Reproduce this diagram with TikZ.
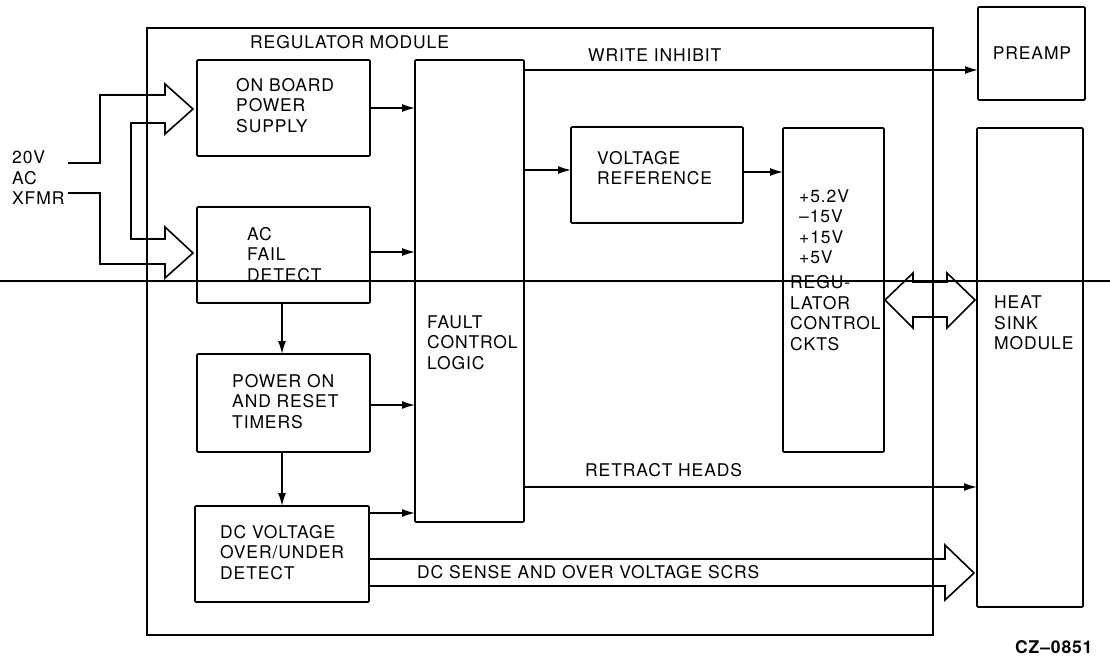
\documentclass[tikz,border=0pt]{standalone}
\usepackage{fontspec}
\setmainfont{TeX Gyre Heros}[LetterSpace=5]
\usetikzlibrary{arrows.meta}
\tikzset{
  box/.style={draw, line width=1.7pt, inner sep=0pt, outer sep=0pt, rounded corners=1pt},
  modbox/.style={draw, line width=2pt, inner sep=0pt, outer sep=0pt},
  txt/.style={inner sep=0pt, align=left, anchor=west, font=\fontsize{17.5}{20.5}\selectfont},
  arr/.style={line width=1.4pt, -{Latex[length=13pt,width=8pt]}},
  hollow/.style={line width=1.6pt, line join=miter},
}
\begin{document}
\begin{tikzpicture}[x=1pt,y=-1pt]
\useasboundingbox (0,0) rectangle (1110,657);
% scan artefact line
\draw[line width=1.1pt] (0,281) -- (1110,281);
% module
\node[modbox, minimum width=786pt, minimum height=607pt, anchor=north west] (mod) at (147,28) {};
\node[txt] (modl) at (250,42) {REGULATOR MODULE};
% boxes
\node[box, minimum width=173pt, minimum height=96pt, anchor=north west] (ob) at (197,60) {};
\node[box, minimum width=173pt, minimum height=96pt, anchor=north west] (acf) at (197,207) {};
\node[box, minimum width=173pt, minimum height=98pt, anchor=north west] (por) at (197,354) {};
\node[box, minimum width=174pt, minimum height=96pt, anchor=north west] (dcv) at (195,506) {};
\node[box, minimum width=109pt, minimum height=462pt, anchor=north west] (fcl) at (415,60) {};
\node[box, minimum width=172pt, minimum height=96pt, anchor=north west] (vref) at (571,127) {};
\node[box, minimum width=101pt, minimum height=324pt, anchor=north west] (reg) at (783,128) {};
\node[box, minimum width=107pt, minimum height=93pt, anchor=north west] (pre) at (978,7) {};
\node[box, minimum width=106pt, minimum height=479pt, anchor=north west] (heat) at (977,128) {};
% texts
\node[txt] (obt) at (236,105.5) {ON BOARD\\POWER\\SUPPLY};
\node[txt] (acft) at (247,254.5) {AC\\FAIL\\DETECT};
\node[txt] (port) at (232,401.5) {POWER ON\\AND RESET\\TIMERS};
\node[txt] (dcvt) at (220,552.5) {DC VOLTAGE\\OVER/UNDER\\DETECT};
\node[txt] (fclt) at (427,342.5) {FAULT\\CONTROL\\LOGIC};
\node[txt] (vreft) at (597,168) {VOLTAGE\\REFERENCE};
\node[txt] (regt1) at (799,226.5) {+5.2V\\--15V\\+15V\\+5V};
\node[txt] (regt2) at (790,313) {REGU-\\LATOR\\CONTROL\\CKTS};
\node[txt, anchor=center] (pret) at (1032,53) {PREAMP};
\node[txt] (heatt) at (994,323) {HEAT\\SINK\\MODULE};
\node[txt] (inp) at (12,178) {20V\\AC\\XFMR};
\node[txt] (wil) at (588,55) {WRITE INHIBIT};
\node[txt] (rhl) at (585,470) {RETRACT HEADS};
\node[txt] (dcsl) at (417,572) {DC SENSE AND OVER VOLTAGE SCRS};
\node[txt, font=\fontsize{17.5}{20.5}\selectfont\bfseries] (cz) at (1015,647) {CZ--0851};
% arrows into fault logic
\draw[arr] (ob.east) -- (ob.east -| fcl.west);
\coordinate (a1) at ([yshift=3pt]acf.east);
\draw[arr] (a1) -- (a1 -| fcl.west);
\coordinate (p1) at ([yshift=-2pt]por.east);
\draw[arr] (p1) -- (p1 -| fcl.west);
\coordinate (d1) at ([yshift=-7pt]dcv.north east);
\draw[arr] (d1) -- (d1 -| fcl.west);
% vertical arrows
\coordinate (v0) at ([xshift=-1.5pt]acf.south);
\draw[arr] (v0) -- (v0 |- por.north);
\coordinate (v2) at ([xshift=-1.5pt]por.south);
\draw[arr] (v2) -- (v2 |- dcv.north);
% fault to voltage reference and regulator
\coordinate (r1) at ([yshift=5pt]vref.west);
\draw[arr] (r1 -| fcl.east) -- (r1);
\coordinate (r2) at ([yshift=3pt]vref.east);
\draw[arr] (r2) -- (r2 -| reg.west);
% write inhibit and retract heads
\coordinate (w1) at ([yshift=-10pt]fcl.north east);
\draw[arr] (w1) -- (w1 -| pre.west);
\coordinate (h1) at ([yshift=35pt]fcl.south east);
\draw[arr] (h1) -- (h1 -| heat.west);
% hollow input arrows
\draw[hollow] (68,163) -- (100,163) -- (100,95) -- (165,95) -- (165,84) -- (193,109) -- (165,134) -- (165,123) -- (131,123) -- (131,239) -- (165,239) -- (165,227) -- (193,253) -- (165,278) -- (165,264) -- (100,264) -- (100,193) -- (68,193);
% hollow double arrow regulator <-> heat sink
\draw[hollow] (885,300) -- (913,273) -- (913,282) -- (947,282) -- (947,273) -- (975,300) -- (947,328) -- (947,317) -- (913,317) -- (913,328) -- cycle;
% hollow DC sense arrow
\draw[hollow] (369,559) -- (945,559) -- (945,545) -- (974,573) -- (945,600) -- (945,586) -- (369,586);
\end{tikzpicture}
\end{document}
